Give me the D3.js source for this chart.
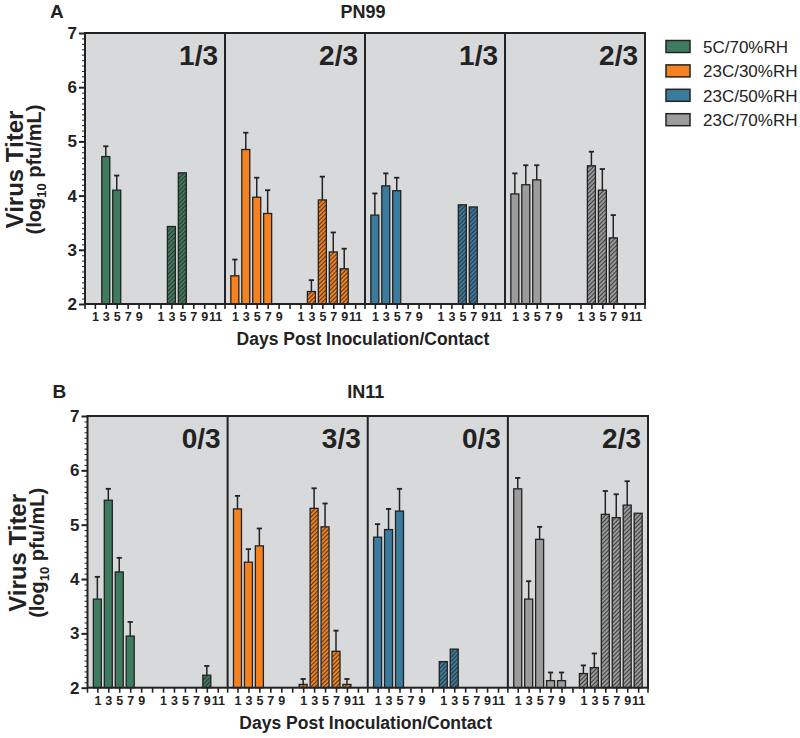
<!DOCTYPE html>
<html><head><meta charset="utf-8">
<script src="https://cdn.jsdelivr.net/npm/d3@7"></script>
<style>
body{margin:0;background:#fff}
svg{display:block}
text{font-family:"Liberation Sans",Arial,Helvetica,sans-serif}
</style>
</head><body>
<svg id="c" width="800" height="738"></svg>
<script>
// ---------- data ----------
const groups = ["5C/70%RH", "23C/30%RH", "23C/50%RH", "23C/70%RH"];
const colors = ["#3f7c5f", "#f6821f", "#3b7b9e", "#9c9c9c"];
const slotKeys = ["I1","I3","I5","I7","I9","gap","C1","C3","C5","C7","C9","C11"];
const tickLabels = ["1","3","5","7","9","","1","3","5","7","9","11"];
const yTicks = [2,3,4,5,6,7];

// Panel A: PN99 (inoculated days 1,3,5,7,9 ; contact days 1,3,5,7,9,11)
const pn99Inoc = [
  [null, 4.72, 4.10, null, null],
  [2.52, 4.85, 3.97, 3.67, null],
  [3.64, 4.18, 4.09, null, null],
  [4.03, 4.20, 4.29, null, null]
];
const pn99InocErr = [
  [null, 4.91, 4.37, null, null],
  [2.82, 5.16, 4.33, 4.10, null],
  [4.04, 4.41, 4.33, null, null],
  [4.41, 4.56, 4.56, null, null]
];
const pn99Contact = [
  [null, 3.43, 4.42, null, null, null],
  [null, 2.23, 3.92, 2.96, 2.65, null],
  [null, null, 3.83, 3.79, null, null],
  [null, 4.55, 4.10, 3.22, null, null]
];
const pn99ContactErr = [
  [null, null, null, null, null, null],
  [null, 2.44, 4.35, 3.32, 3.02, null],
  [null, null, null, null, null, null],
  [null, 4.81, 4.49, 3.64, null, null]
];
const pn99Fractions = ["1/3", "2/3", "1/3", "2/3"];

// Panel B: IN11
const in11Inoc = [
  [3.63, 5.45, 4.13, 2.95, null],
  [5.29, 4.31, 4.61, null, null],
  [4.77, 4.91, 5.25, null, null],
  [5.66, 3.63, 4.73, 2.13, 2.13]
];
const in11InocErr = [
  [4.04, 5.66, 4.39, 3.21, null],
  [5.53, 4.55, 4.93, null, null],
  [5.01, 5.29, 5.66, null, null],
  [5.86, 3.96, 4.96, 2.28, 2.28]
];
const in11Contact = [
  [null, null, null, null, 2.23, null],
  [2.06, 5.30, 4.96, 2.67, 2.06, null],
  [2.48, 2.71, null, null, null, null],
  [2.26, 2.37, 5.19, 5.13, 5.36, 5.21]
];
const in11ContactErr = [
  [null, null, null, null, 2.40, null],
  [2.16, 5.67, 5.39, 3.05, 2.16, null],
  [null, null, null, null, null, null],
  [2.41, 2.63, 5.62, 5.56, 5.80, null]
];
const in11Fractions = ["0/3", "3/3", "0/3", "2/3"];

// ---------- drawing ----------
const svg = d3.select("#c");
const ink = "#222";
const defs = svg.append("defs");
colors.forEach((c, i) => {
  const p = defs.append("pattern").attr("id", "hatch" + i)
    .attr("patternUnits", "userSpaceOnUse").attr("width", 3).attr("height", 3)
    .attr("patternTransform", "rotate(45)");
  p.append("rect").attr("width", 3).attr("height", 3).attr("fill", c);
  p.append("line").attr("x1", 0.6).attr("y1", 0).attr("x2", 0.6).attr("y2", 3)
    .attr("stroke", "#2a2a2a").attr("stroke-width", 0.9);
});

function drawPanel(cfg) {
  const {left, top, width, height, letter, title, titleGap, inoc, inocErr, contact, contactErr, fractions} = cfg;
  const bottom = top + height;
  const y = d3.scaleLinear().domain([2, 7]).range([bottom, top]);
  const gx = d3.scaleBand().domain(groups).range([left, left + width]);
  const sx = d3.scalePoint().domain(slotKeys).range([0, gx.bandwidth()]).padding(0.9);
  const bw = 8;
  const g = svg.append("g");

  g.append("rect").attr("x", left).attr("y", top).attr("width", width).attr("height", height)
    .attr("fill", "#d8d9db");

  const recs = [];
  groups.forEach((grp, gi) => {
    inoc[gi].forEach((v, i) => { if (v != null) recs.push({gi, slot: slotKeys[i], v, e: inocErr[gi][i], h: false}); });
    contact[gi].forEach((v, j) => { if (v != null) recs.push({gi, slot: slotKeys[6 + j], v, e: contactErr[gi][j], h: true}); });
  });
  const cx = d => gx(groups[d.gi]) + sx(d.slot);

  // error bars (upper only)
  const eb = recs.filter(d => d.e != null);
  g.selectAll(".ev").data(eb).join("line")
    .attr("x1", cx).attr("x2", cx).attr("y1", d => y(d.v)).attr("y2", d => y(d.e))
    .attr("stroke", ink).attr("stroke-width", 1.5);
  g.selectAll(".ec").data(eb).join("line")
    .attr("x1", d => cx(d) - 2.6).attr("x2", d => cx(d) + 2.6).attr("y1", d => y(d.e)).attr("y2", d => y(d.e))
    .attr("stroke", ink).attr("stroke-width", 1.8);

  g.selectAll(".bar").data(recs).join("rect")
    .attr("x", d => cx(d) - bw / 2).attr("width", bw)
    .attr("y", d => y(d.v)).attr("height", d => y(2) - y(d.v))
    .attr("fill", d => d.h ? `url(#hatch${d.gi})` : colors[d.gi])
    .attr("stroke", ink).attr("stroke-width", 1.3);

  // frame and dividers
  g.append("rect").attr("x", left).attr("y", top).attr("width", width).attr("height", height)
    .attr("fill", "none").attr("stroke", ink).attr("stroke-width", 2);
  groups.slice(1).forEach(grp => {
    g.append("line").attr("x1", gx(grp)).attr("x2", gx(grp)).attr("y1", top).attr("y2", bottom)
      .attr("stroke", ink).attr("stroke-width", 2);
  });

  // fractions
  groups.forEach((grp, gi) => {
    g.append("text").attr("x", gx(grp) + gx.bandwidth() - 7).attr("y", top + 32)
      .attr("text-anchor", "end").attr("font-size", 28).attr("font-weight", "bold")
      .attr("fill", ink).text(fractions[gi]);
  });

  // y axis
  const ya = g.append("g").attr("transform", `translate(${left},0)`)
    .call(d3.axisLeft(y).tickValues(yTicks).tickSize(6).tickPadding(2).tickFormat(d3.format("d")));
  ya.select(".domain").remove();
  ya.selectAll("line").attr("stroke", ink).attr("stroke-width", 2);
  ya.selectAll("text").attr("font-size", 17).attr("font-weight", "bold").attr("fill", ink)
    .attr("font-family", "Liberation Sans, Arial, sans-serif");
  const minorVals = d3.range(20, 71).filter(d => d % 10 !== 0).map(d => d / 10);
  const ym = g.append("g").attr("transform", `translate(${left},0)`)
    .call(d3.axisLeft(y).tickValues(minorVals).tickSize(3).tickFormat(""));
  ym.select(".domain").remove();
  ym.selectAll("line").attr("stroke", ink).attr("stroke-width", 1);

  // x axes (per group)
  groups.forEach(grp => {
    const xa = g.append("g").attr("transform", `translate(${gx(grp)},${bottom})`)
      .call(d3.axisBottom(sx).tickSize(5).tickPadding(3).tickFormat((d, i) => tickLabels[i]));
    xa.select(".domain").remove();
    xa.selectAll("line").attr("stroke", ink).attr("stroke-width", 1.6);
    xa.selectAll("text").attr("font-size", 12.5).attr("font-weight", "bold").attr("fill", ink)
      .attr("font-family", "Liberation Sans, Arial, sans-serif");
  });
  [...groups.map(grp => gx(grp)), left + width].forEach(xv => {
    g.append("line").attr("x1", xv).attr("x2", xv).attr("y1", bottom).attr("y2", bottom + 5)
      .attr("stroke", ink).attr("stroke-width", 1.6);
  });

  // titles
  g.append("text").attr("x", left - 35).attr("y", top - titleGap).attr("font-size", 19)
    .attr("font-weight", "bold").attr("fill", ink).text(letter);
  g.append("text").attr("x", left + width / 2 - 2).attr("y", top - titleGap).attr("text-anchor", "middle")
    .attr("font-size", 18).attr("font-weight", "bold").attr("fill", ink).text(title);

  // x axis title
  g.append("text").attr("x", left + width / 2 - 2).attr("y", bottom + 41).attr("text-anchor", "middle")
    .attr("font-size", 17.5).attr("font-weight", "bold").attr("fill", ink)
    .text("Days Post Inoculation/Contact");

  // y axis title
  const cy = top + height / 2 + 1;
  g.append("text").attr("transform", `translate(${left - 62},${cy}) rotate(-90)`)
    .attr("text-anchor", "middle").attr("font-size", 24).attr("font-weight", "bold").attr("fill", ink)
    .text("Virus Titer");
  const t2 = g.append("text").attr("transform", `translate(${left - 44},${cy}) rotate(-90)`)
    .attr("text-anchor", "middle").attr("font-size", 20).attr("font-weight", "bold").attr("fill", ink);
  t2.append("tspan").text("(log");
  t2.append("tspan").attr("font-size", 13).attr("dy", 5).text("10");
  t2.append("tspan").attr("dy", -5).text(" pfu/mL)");
}

drawPanel({left: 85, top: 33, width: 560, height: 271, letter: "A", title: "PN99", titleGap: 15,
  inoc: pn99Inoc, inocErr: pn99InocErr, contact: pn99Contact, contactErr: pn99ContactErr, fractions: pn99Fractions});
drawPanel({left: 87.5, top: 416, width: 560.5, height: 271.7, letter: "B", title: "IN11", titleGap: 18,
  inoc: in11Inoc, inocErr: in11InocErr, contact: in11Contact, contactErr: in11ContactErr, fractions: in11Fractions});

// legend
const lg = svg.append("g").attr("transform", "translate(666,40.5)");
groups.forEach((grp, i) => {
  lg.append("rect").attr("x", 0).attr("y", i * 24.4).attr("width", 24).attr("height", 12)
    .attr("fill", colors[i]).attr("stroke", ink).attr("stroke-width", 1.5);
  lg.append("text").attr("x", 37).attr("y", i * 24.4 + 12.5).attr("font-size", 17)
    .attr("fill", ink).text(grp);
});
</script>
</body></html>
